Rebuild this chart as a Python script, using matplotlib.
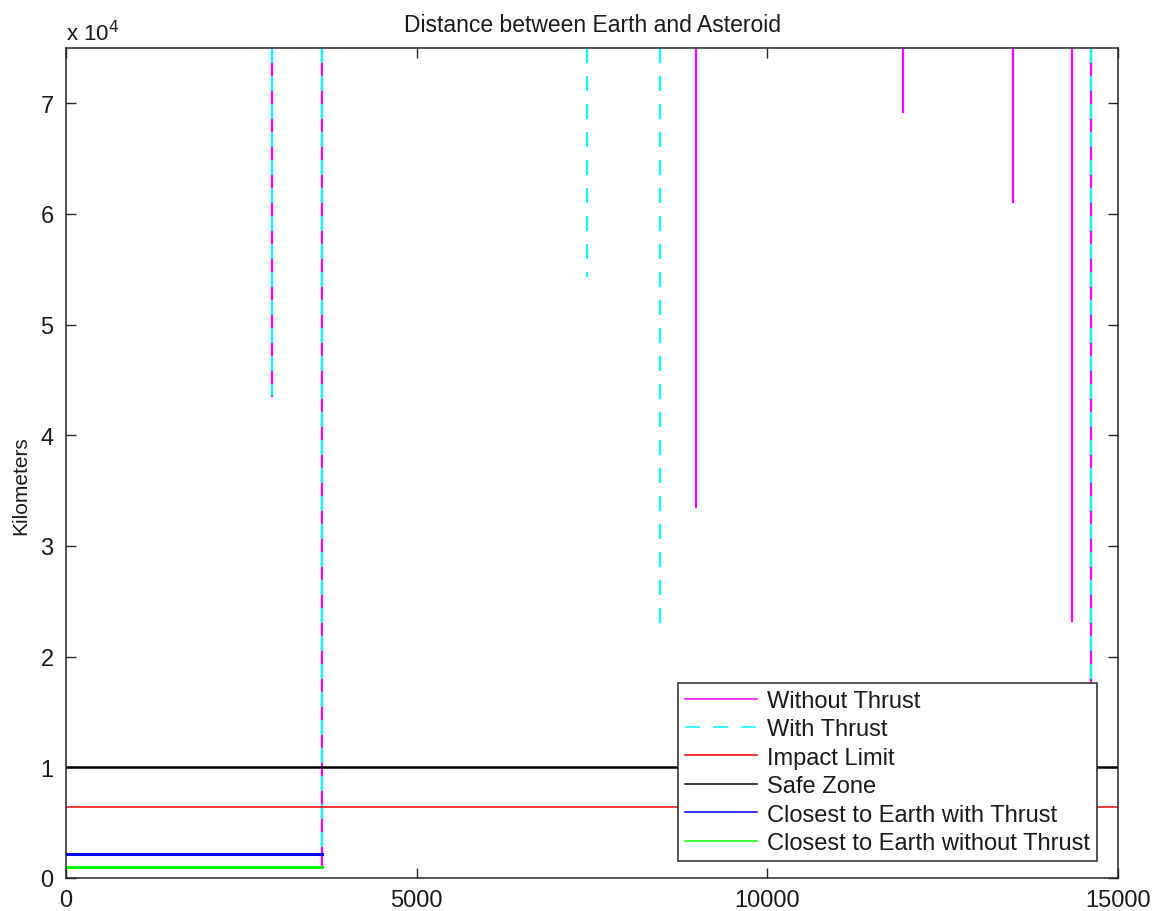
import numpy as np
import matplotlib
matplotlib.use('Agg')
import matplotlib.pyplot as plt
from matplotlib.lines import Line2D

plt.rcParams['font.family'] = ['Liberation Sans', 'DejaVu Sans']

# close approaches: time of pass and minimum distance (km)
t_no_thrust = [2937, 3650, 8979, 11940, 13508, 14340, 14611]
d_no_thrust = [43550, 1000, 33550, 69240, 61100, 23250, 13000]

t_thrust = [2937, 3650, 7433, 8475, 14611]
d_thrust = [43550, 2200, 54300, 22600, 15000]

IMPACT_LIMIT = 6378
SAFE_ZONE = 10000
T_END = 15000
Y_MAX = 75000

closest_thrust = 2200
closest_no_thrust = 1000
t_closest = 3650

TEXT = '#1a1a1a'


def spike_path(times, mins):
    # one drop per pass, from the top of the plot down to the minimum
    xs, ys = [], []
    for t, d in zip(times, mins):
        xs += [t, t, np.nan]
        ys += [Y_MAX, d, np.nan]
    return xs, ys


fig = plt.figure(figsize=(11.54, 9.12), dpi=100)
ax = fig.add_axes([0.0572, 0.0362, 0.9116, 0.9101])

x1, y1 = spike_path(t_no_thrust, d_no_thrust)
x2, y2 = spike_path(t_thrust, d_thrust)
ax.plot(x1, y1, color='#ff00ff', lw=1.6)
ax.plot(x2, y2, color='#00ffff', lw=1.6, linestyle=(0, (6.75, 5.85)))
ax.plot([0, T_END], [IMPACT_LIMIT, IMPACT_LIMIT], color='#ff0000', lw=1.1)
ax.plot([0, T_END], [SAFE_ZONE, SAFE_ZONE], color='black', lw=1.8)
ax.plot([0, t_closest], [closest_thrust, closest_thrust], color='#0000ff', lw=2.2)
ax.plot([0, t_closest], [closest_no_thrust, closest_no_thrust], color='#00ff00', lw=2.2)

ax.set_xlim(0, T_END)
ax.set_ylim(0, Y_MAX)
ax.set_xticks([0, 5000, 10000, 15000])
ax.set_yticks(np.arange(0, 75001, 10000))
ax.set_yticklabels([str(i) for i in range(8)])
ax.tick_params(direction='in', length=7.2, width=1, labelsize=17,
               top=True, right=True, colors='#262626', labelcolor=TEXT)
ax.tick_params(axis='x', pad=8)
ax.tick_params(axis='y', pad=9)
for s in ax.spines.values():
    s.set_linewidth(1.1)
    s.set_color('#262626')

ax.text(0, 1.003, r'x 10$^4$', transform=ax.transAxes, fontsize=16,
        ha='left', va='bottom', color=TEXT)
ax.set_title('Distance between Earth and Asteroid', fontsize=16.5, pad=12,
             color=TEXT)
ax.set_ylabel('Kilometers', fontsize=15, color=TEXT)
ax.yaxis.set_label_coords(-0.034, 0.4735)

handles = [
    Line2D([], [], color='#ff00ff', lw=1.1),
    Line2D([], [], color='#00ffff', lw=1.1, linestyle=(0, (9.8, 8.5))),
    Line2D([], [], color='#ff0000', lw=1.1),
    Line2D([], [], color='black', lw=1.1),
    Line2D([], [], color='#0000ff', lw=1.1),
    Line2D([], [], color='#00ff00', lw=1.1),
]
labels = ['Without Thrust', 'With Thrust', 'Impact Limit', 'Safe Zone',
          'Closest to Earth with Thrust', 'Closest to Earth without Thrust']
leg = ax.legend(handles, labels, loc='lower right', bbox_to_anchor=(0.98, 0.0205),
                borderaxespad=0, fancybox=False, edgecolor='#262626', framealpha=1,
                fontsize=17, handlelength=3.05, labelspacing=0.27,
                borderpad=0.3, handletextpad=0.4)
leg.get_frame().set_linewidth(1.1)
for txt in leg.get_texts():
    txt.set_color(TEXT)

fig.savefig('out.png', dpi=100, facecolor='white')
